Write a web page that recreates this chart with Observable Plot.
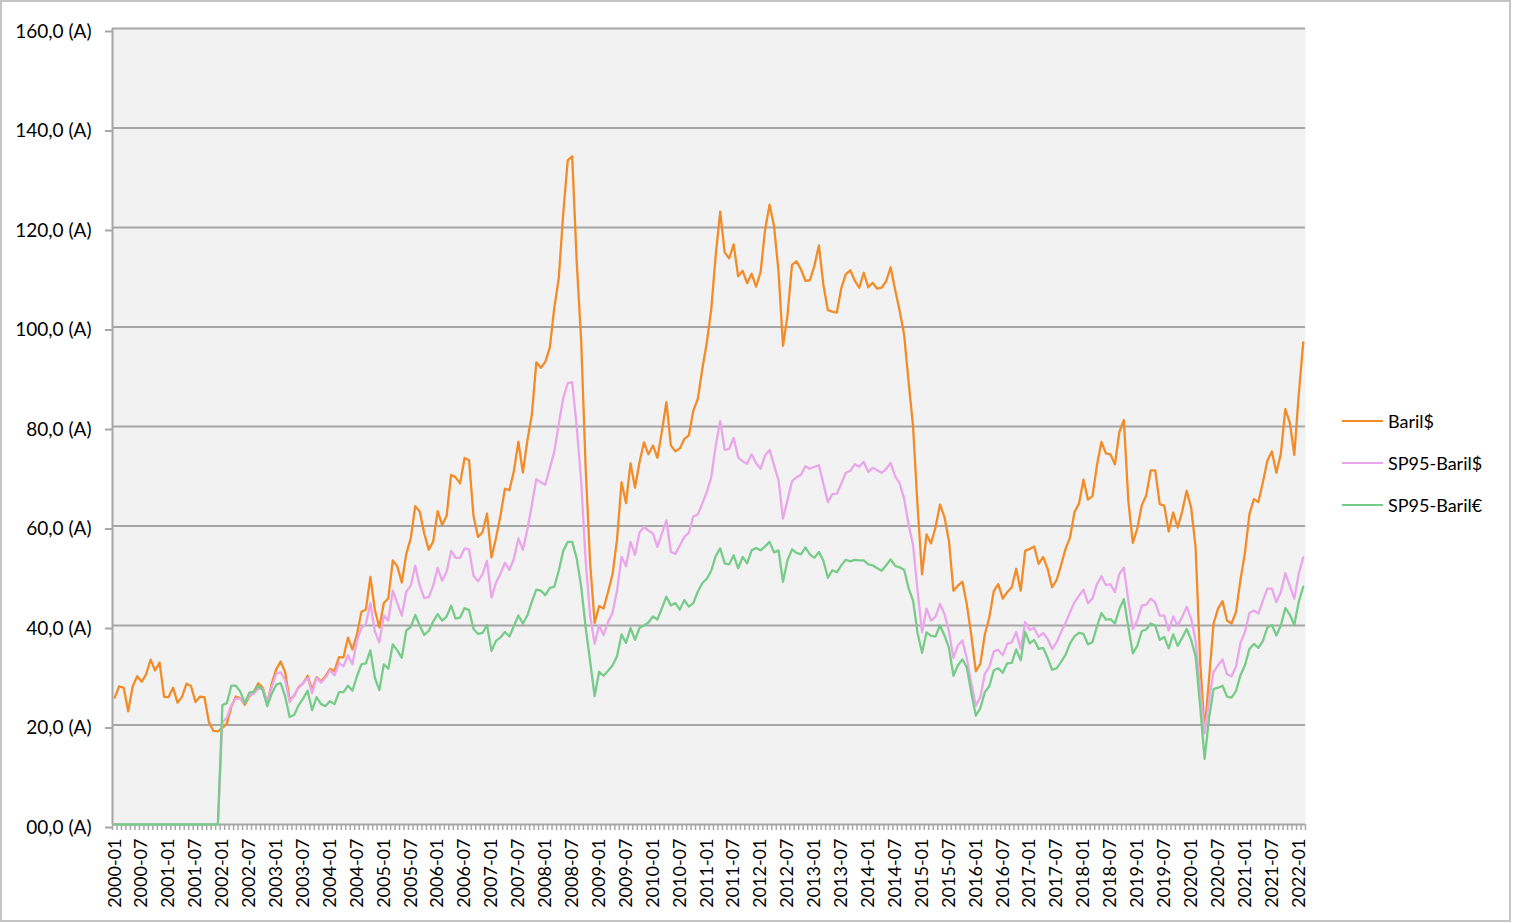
<!DOCTYPE html>
<html><head><meta charset="utf-8">
<script src="https://cdn.jsdelivr.net/npm/d3@7"></script>
<script src="https://cdn.jsdelivr.net/npm/@observablehq/plot@0.6"></script>
<style>
html,body{margin:0;padding:0;background:#fff;}
#wrap{position:relative;width:1513px;height:923px;overflow:hidden;font-family:Lato,sans-serif;}
#chart{position:absolute;left:0;top:0;}
#border{position:absolute;left:0;top:0;width:1511px;height:922px;box-sizing:border-box;border:2px solid #c4c4c4;pointer-events:none;}
#legend{position:absolute;left:1342px;top:400px;font-size:18px;color:#000;font-family:Lato,sans-serif;}
.item{display:flex;align-items:center;height:42px;}
.sw{width:41px;height:0;border-top:2.5px solid;margin-right:5px;}
</style></head><body>
<div id="wrap"><div id="chart"></div><div id="legend"></div><div id="border"></div></div>
<script>
// Categories: monthly, 2000-01 .. 2022-02
const months = d3.utcMonth.range(new Date(Date.UTC(2000,0,1)), new Date(Date.UTC(2022,2,1))).map(d3.utcFormat("%Y-%m"));

const seriesNames = ["Baril$", "SP95-Baril$", "SP95-Baril€"];
const seriesColors = ["#f28c28", "#eaa6ea", "#76cc88"];

const baril = [
25.51,27.78,27.49,22.76,27.74,29.80,28.68,30.20,33.14,30.96,32.55,25.66,
25.62,27.50,24.50,25.66,28.31,27.85,24.61,25.68,25.62,20.54,18.80,18.71,
19.42,20.28,23.70,25.73,25.35,24.08,25.74,26.65,28.40,27.54,24.34,28.33,
31.18,32.77,30.61,25.00,25.86,27.65,28.35,29.89,27.11,29.61,28.75,29.81,
31.28,30.86,33.63,33.59,37.57,35.18,38.22,42.74,43.20,49.78,43.11,39.60,
44.51,45.48,53.10,51.88,48.65,54.35,57.52,63.98,62.91,58.54,55.24,56.86,
62.99,60.21,62.06,70.26,69.78,68.56,73.67,73.23,61.96,57.81,58.76,62.47,
53.68,57.56,62.05,67.49,67.21,71.05,76.93,70.76,77.17,82.34,92.9,91.8,
93.0,95.8,103.8,109.8,122.8,133.5,134.3,113.2,97.2,71.6,52.5,40.5,
43.9,43.4,46.8,50.3,57.3,68.8,64.6,72.6,67.7,72.8,76.8,74.4,
76.2,73.7,79.0,84.9,76.2,75.0,75.6,77.5,78.2,83.2,85.5,91.5,
96.8,103.5,114.5,123.2,115.0,113.8,116.6,110.2,111.3,108.8,110.7,108.1,
111.0,119.5,124.6,120.3,111.2,96.2,102.3,112.5,113.2,111.6,109.3,109.4,
112.3,116.4,108.5,103.4,103.1,102.9,107.8,110.6,111.4,109.3,107.9,110.9,
108.0,108.9,107.7,107.9,109.2,112.0,107.5,103.3,98.5,89.0,80.0,64.0,
50.3,58.3,56.5,59.7,64.3,61.8,57.0,47.0,48.0,48.8,44.2,37.9,
30.8,32.3,38.2,41.6,46.9,48.3,45.4,46.7,47.7,51.4,47.0,55.0,
55.4,55.9,52.4,53.8,51.4,47.7,49.1,52.1,55.4,57.7,62.8,64.5,
69.3,65.3,66.0,72.2,76.9,74.6,74.4,72.4,78.9,81.3,65.0,56.6,
59.5,64.2,66.2,71.2,71.2,64.4,64.1,58.9,62.7,59.7,62.9,67.1,
63.7,55.7,33.0,18.7,29.3,40.4,43.4,44.9,41.0,40.4,42.7,49.2,
54.6,62.4,65.4,64.8,68.8,73.1,75.0,70.7,74.5,83.5,80.8,74.3,
86.5,96.9
];

const sp95Usd = [
0,0,0,0,0,0,0,0,0,0,0,0,
0,0,0,0,0,0,0,0,0,0,0,0,
20.5,21.5,24.0,25.3,25.3,24.4,26.0,26.3,27.3,27.3,24.6,27.6,
30.3,30.6,29.0,24.6,26.0,27.5,28.5,29.5,26.4,29.5,28.5,29.5,
31.0,30.0,32.5,31.8,34.0,32.2,37.0,39.5,40.3,44.5,38.8,36.6,
42.0,41.0,47.0,44.5,42.0,46.8,48.0,52.0,48.0,45.5,45.7,48.0,
51.6,49.0,50.8,55.0,53.6,53.6,55.5,55.3,50.0,48.9,50.3,53.0,
45.6,48.6,50.4,52.6,51.2,53.4,57.5,55.2,59.3,64.2,69.4,68.8,
68.3,71.6,74.9,80.5,85.7,88.7,88.9,80.0,69.0,53.0,42.0,36.3,
40.0,38.1,40.7,42.6,47.0,53.8,51.9,56.8,54.2,58.7,59.8,59.1,
58.5,55.8,58.5,61.1,54.8,54.4,56.1,57.8,58.6,61.9,62.3,64.5,
66.8,69.8,76.2,81.1,75.3,75.5,77.7,73.8,73.0,72.5,74.4,72.6,
71.5,74.2,75.3,72.2,69.2,61.5,65.2,69.0,69.8,70.3,72.0,71.5,
71.9,72.2,68.5,64.8,66.4,66.5,68.5,70.7,71.1,72.4,71.9,72.9,
70.9,71.7,71.2,70.7,71.5,72.7,70.0,68.6,65.5,60.3,56.2,47.0,
38.6,43.4,41.0,41.8,44.3,42.3,38.8,33.5,36.0,37.0,33.3,28.3,
23.9,25.6,30.3,31.7,34.8,35.1,34.0,36.3,36.6,38.7,35.3,40.7,
39.1,39.5,37.7,38.5,37.3,35.3,36.6,38.7,40.5,42.7,44.7,46.0,
47.2,44.5,45.4,48.3,49.9,48.1,48.3,46.7,50.4,51.6,45.0,39.3,
41.0,44.0,44.2,45.4,44.6,42.0,42.0,39.0,41.8,40.0,41.7,43.8,
41.4,37.0,27.0,18.3,25.0,30.7,32.0,33.2,30.2,29.8,31.7,36.5,
38.7,42.5,43.0,42.4,45.0,47.4,47.4,44.7,46.7,50.5,48.0,45.4,
50.4,53.7
];

const sp95Eur = [
0,0,0,0,0,0,0,0,0,0,0,0,
0,0,0,0,0,0,0,0,0,0,0,0,
24.0,24.4,27.9,27.9,26.7,24.4,26.5,26.7,27.9,27.0,23.8,26.3,
28.1,28.4,25.7,21.6,22.0,24.0,25.3,26.9,23.0,25.6,24.2,23.8,
24.8,24.2,26.6,26.6,27.9,26.9,29.8,32.2,32.4,35.0,29.5,27.0,
32.2,31.3,36.2,35.0,33.5,39.0,39.7,42.1,40.0,38.1,38.9,40.8,
42.3,41.0,41.8,44.0,41.4,41.6,43.5,43.1,39.3,38.3,38.5,40.1,
34.9,36.9,37.6,38.7,37.8,39.9,42.0,40.4,42.0,44.8,47.2,47.0,
46.1,47.5,47.8,51.0,55.0,56.8,56.8,53.5,47.8,39.6,32.8,25.8,
30.7,29.9,30.9,32.0,33.8,38.2,36.5,39.5,37.1,39.5,40.0,40.6,
41.8,41.2,43.5,45.8,44.0,44.5,43.2,45.1,43.8,44.5,46.8,48.5,
49.4,51.0,54.0,55.5,52.5,52.3,54.1,51.5,53.8,52.5,55.1,55.6,
55.1,55.9,56.8,54.7,55.1,48.8,53.1,55.3,54.6,54.3,55.7,54.3,
53.6,54.8,53.0,49.6,51.1,50.7,52.1,53.2,52.9,53.2,53.1,53.1,
52.3,52.1,51.5,51.0,52.1,53.3,52.0,51.7,51.2,47.5,45.0,38.5,
34.5,38.6,37.9,37.8,40.0,38.0,35.5,29.9,32.0,33.2,31.5,26.4,
21.9,23.4,26.6,27.8,31.0,31.4,30.5,32.4,32.5,35.2,33.0,38.7,
36.4,37.1,35.3,35.5,33.5,31.1,31.4,32.7,34.1,36.4,37.8,38.5,
38.3,36.2,36.7,39.8,42.5,41.2,41.3,40.4,43.3,45.3,39.7,34.4,
35.9,38.9,39.2,40.4,40.0,37.1,37.7,35.4,38.2,35.9,37.5,39.3,
37.1,33.8,23.9,13.2,21.5,27.2,27.5,27.9,25.7,25.5,26.8,30.0,
32.0,35.3,36.3,35.5,36.9,39.6,40.1,38.0,40.0,43.5,42.2,40.1,
44.8,47.8
];

const yTicks = [0, 20, 40, 60, 80, 100, 120, 140, 160];
const labelEvery = 6;

const allValues = [baril, sp95Usd, sp95Eur];
const rows = (k) => months.map((m, i) => ({i, m, v: allValues[k][i]}));
const boundaries = d3.range(months.length + 1).map(i => i - 0.5);
const labelIdx = months.map((m, i) => i).filter(i => i % labelEvery === 0);
const fmtY = d => (d < 10 ? "0" + d : String(d)) + ",0 (A)";

const chart = Plot.plot({
  width: 1513, height: 923,
  marginLeft: 112, marginRight: 208, marginTop: 28, marginBottom: 99,
  style: {fontFamily: "Lato, sans-serif", fontSize: "18px", background: "transparent", color: "#000", overflow: "visible"},
  x: {type: "linear", domain: [-0.5, months.length - 0.5]},
  y: {domain: [0, 160]},
  marks: [
    Plot.frame({fill: "#f2f2f2", stroke: null}),
    Plot.gridY(yTicks, {stroke: "#a6a6a6", strokeOpacity: 1, strokeWidth: 2}),
    Plot.ruleX([-0.5], {stroke: "#a6a6a6", strokeWidth: 2}),
    Plot.axisY(yTicks, {tickSize: 7, tickPadding: 14, tickFormat: fmtY, stroke: "#a6a6a6", strokeWidth: 2, fill: "#000", label: null, fontSize: 19, dy: 3}),
    Plot.axisX(boundaries, {tickSize: 6, tickFormat: () => "", stroke: "#a6a6a6", strokeWidth: 1.5, label: null}),
    Plot.axisX(labelIdx, {tickSize: 0, tickPadding: 14, tickRotate: -90, tickFormat: i => months[i], fill: "#000", label: null, fontSize: 18}),
    Plot.line(rows(0), {x: "i", y: "v", stroke: seriesColors[0], strokeWidth: 2.3, strokeLinejoin: "round"}),
    Plot.line(rows(1), {x: "i", y: "v", stroke: seriesColors[1], strokeWidth: 2.3, strokeLinejoin: "round"}),
    Plot.line(rows(2), {x: "i", y: "v", stroke: seriesColors[2], strokeWidth: 2.3, strokeLinejoin: "round"})
  ]
});
document.getElementById("chart").appendChild(chart);

const legend = document.getElementById("legend");
seriesNames.forEach((n, k) => {
  const item = document.createElement("div");
  item.className = "item";
  const sw = document.createElement("div");
  sw.className = "sw";
  sw.style.borderTopColor = seriesColors[k];
  const t = document.createElement("span");
  t.textContent = n;
  item.appendChild(sw); item.appendChild(t);
  legend.appendChild(item);
});
</script></body></html>
